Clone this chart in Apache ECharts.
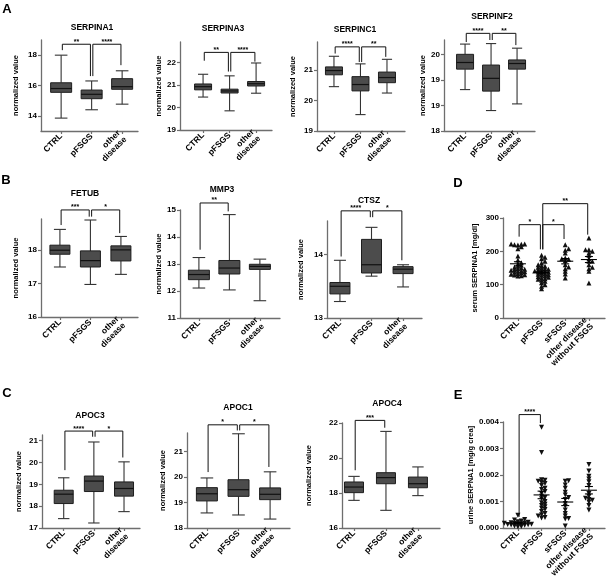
<!DOCTYPE html>
<html><head><meta charset="utf-8">
<script src="https://cdn.jsdelivr.net/npm/echarts@6/dist/echarts.min.js"></script>
<style>html,body{margin:0;padding:0;background:#fff}#c{width:610px;height:585px}</style>
</head><body><div id="c"></div>
<script>
// ---------- categories ----------
const groups3 = ['CTRL', 'pFSGS', 'other\ndisease'];
const groups4 = ['CTRL', 'pFSGS', 'sFSGS', 'other disease\nwithout FSGS'];

// ---------- box statistics: [min, Q1, median, Q3, max] per group ----------
const serpina1 = [[13.85, 15.55, 15.8, 16.18, 18.0], [14.4, 15.13, 15.42, 15.7, 16.3], [14.77, 15.75, 15.92, 16.45, 16.97]];
const serpina3 = [[20.46, 20.78, 20.92, 21.04, 21.47], [19.85, 20.64, 20.73, 20.81, 21.4], [20.63, 20.95, 21.05, 21.15, 21.97]];
const serpinc1 = [[20.46, 20.85, 20.99, 21.11, 21.46], [19.54, 20.32, 20.53, 20.79, 21.21], [20.25, 20.59, 20.76, 20.94, 21.36]];
const serpinf2 = [[19.31, 19.71, 19.84, 20.0, 20.2], [18.9, 19.28, 19.53, 19.79, 20.21], [19.03, 19.71, 19.82, 19.89, 20.12]];
const fetub = [[17.49, 17.87, 17.99, 18.14, 18.61], [16.97, 17.49, 17.68, 17.97, 18.89], [17.27, 17.67, 18.0, 18.12, 18.4]];
const mmp3 = [[12.11, 12.42, 12.61, 12.77, 13.24], [12.04, 12.63, 12.85, 13.13, 14.83], [11.64, 12.8, 12.91, 12.99, 13.18]];
const ctsz = [[13.26, 13.38, 13.5, 13.56, 13.91], [13.66, 13.71, 13.84, 14.24, 14.43], [13.49, 13.7, 13.77, 13.81, 13.84]];
const apoc3 = [[17.43, 18.12, 18.55, 18.73, 19.3], [17.23, 18.67, 19.15, 19.38, 20.94], [17.75, 18.46, 18.81, 19.11, 20.03]];
const apoc1 = [[18.59, 19.06, 19.34, 19.58, 19.96], [18.51, 19.24, 19.5, 19.89, 21.69], [18.35, 19.11, 19.32, 19.57, 20.2]];
const apoc4 = [[17.58, 18.02, 18.34, 18.63, 18.95], [17.01, 18.53, 18.88, 19.16, 21.52], [17.85, 18.3, 18.53, 18.91, 19.49]];

// ---------- serum SERPINA1 [mg/dl] ----------
const serumCtrl = [222, 222, 221, 220, 219, 214, 208, 186, 174, 166, 162, 158, 155, 152, 150, 148, 146, 145, 143, 142, 140, 139, 137, 135, 133, 131, 129, 127, 126, 130];
const serumPfsgs = [188, 182, 178, 170, 165, 160, 157, 155, 152, 150, 148, 146, 145, 143, 141, 140, 138, 137, 135, 133, 131, 130, 128, 126, 124, 122, 120, 118, 116, 113, 110, 106, 100, 95, 88];
const serumSfsgs = [220, 208, 203, 195, 180, 178, 176, 172, 160, 153, 148, 140, 132, 120];
const serumOther = [240, 205, 205, 200, 195, 188, 178, 170, 170, 160, 152, 148, 140, 105];

// ---------- urine SERPINA1 [mg/g crea] ----------
const urineCtrl = [0.00048, 0.00032, 0.00030, 0.00026, 0.00024, 0.00022, 0.00020, 0.00019, 0.00018, 0.00017, 0.00016, 0.00015, 0.00014, 0.00013, 0.00012, 0.00011, 0.00010, 0.00008, 0.00006, 0.00005];
const urinePfsgs = [0.00380, 0.00285, 0.00182, 0.00180, 0.00176, 0.00172, 0.00168, 0.00160, 0.00150, 0.00145, 0.00138, 0.00130, 0.00120, 0.00115, 0.00110, 0.00100, 0.00095, 0.00090, 0.00085, 0.00080, 0.00075, 0.00070, 0.00062, 0.00055, 0.00050, 0.00045, 0.00040, 0.00038];
const urineSfsgs = [0.00178, 0.00176, 0.00162, 0.00150, 0.00135, 0.00125, 0.00115, 0.00108, 0.00092, 0.00082, 0.00068, 0.00055, 0.00045, 0.00036, 0.00034, 0.00008];
const urineOther = [0.00240, 0.00215, 0.00195, 0.00185, 0.00175, 0.00160, 0.00130, 0.00120, 0.00112, 0.00108, 0.00105, 0.00098, 0.00085, 0.00068];

// ---------- significance: [group a, group b, stars, bracket level, leg a end, leg b end] ----------
const sigSerpina1 = [[0, 1, '**', 18.72, 18.33, 16.62], [1, 2, '****', 18.72, 16.62, 17.34]];
const sigSerpina3 = [[0, 1, '**', 22.44, 22.07, 21.59], [1, 2, '****', 22.44, 21.59, 22.03]];
const sigSerpinc1 = [[0, 1, '****', 21.77, 21.55, 21.27], [1, 2, '**', 21.77, 21.27, 21.44]];
const sigSerpinf2 = [[0, 1, '****', 20.41, 20.24, 20.28], [1, 2, '**', 20.41, 20.28, 20.18]];
const sigFetub = [[0, 1, '***', 19.19, 18.74, 18.99], [1, 2, '*', 19.19, 18.99, 18.5]];
const sigMmp3 = [[0, 1, '**', 15.26, 13.53, 14.95]];
const sigCtsz = [[0, 1, '****', 14.69, 13.97, 14.59], [1, 2, '*', 14.69, 14.59, 13.91]];
const sigApoc3 = [[0, 1, '****', 21.44, 19.65, 21.18], [1, 2, '*', 21.44, 21.18, 20.23]];
const sigApoc1 = [[0, 1, '*', 22.04, 20.19, 21.82], [1, 2, '*', 22.04, 21.82, 20.39]];
const sigApoc4 = [[0, 1, '***', 22.15, 19.3, 21.73]];
const sigSerum = [[0, 1, '*', 280, 244, 206], [1, 2, '*', 280, 206, 237], [1, 3, '**', 343, 206, 250]];
const sigUrine = [[0, 1, '****', 0.00428, 0.00042, 0.00396]];

// ---------- tick values / labels ----------
const ticksA1 = [14, 16, 18];
const ticksA2 = [19, 20, 21, 22];
const ticksA3 = [19, 20, 21];
const ticksA4 = [18.5, 19, 19.5, 20];
const labelsA4 = ['18', '19', '19', '20'];
const ticksB1 = [16, 17, 18];
const ticksB2 = [11, 12, 13, 14, 15];
const ticksB3 = [13, 14];
const ticksC1 = [17, 18, 19, 20, 21];
const ticksC2 = [18, 19, 20, 21];
const ticksC3 = [16, 18, 20, 22];
const ticksD = [0, 100, 200, 300];
const ticksE = [0, 0.001, 0.002, 0.003, 0.004];
const labelsE = ['0.000', '0.001', '0.002', '0.003', '0.004'];

// ---------- layout (pixels) ----------
const FONT = '"Liberation Sans", Arial, Helvetica, sans-serif';
const panels = [
  {kind: 'box', title: 'SERPINA1', box: serpina1, sig: sigSerpina1, ticks: ticksA1, L: 41, R: 138, T: 40, B: 131, ymin: 13, ymax: 19, xmin: -0.66, xmax: 2.52, bw: 21, tx: 92, ty: 28, gap: 21},
  {kind: 'box', title: 'SERPINA3', box: serpina3, sig: sigSerpina3, ticks: ticksA2, L: 180, R: 272, T: 42, B: 130, ymin: 19, ymax: 22.9, xmin: -0.87, xmax: 2.6, bw: 17, tx: 223, ty: 29, gap: 16},
  {kind: 'box', title: 'SERPINC1', box: serpinc1, sig: sigSerpinc1, ticks: ticksA3, L: 317, R: 405, T: 42, B: 131, ymin: 19, ymax: 21.93, xmin: -0.64, xmax: 2.68, bw: 17, tx: 355, ty: 30, gap: 20},
  {kind: 'box', title: 'SERPINF2', box: serpinf2, sig: sigSerpinf2, ticks: ticksA4, labels: labelsA4, L: 444, R: 535, T: 40, B: 131, ymin: 18.5, ymax: 20.28, xmin: -0.81, xmax: 2.69, bw: 17, tx: 492, ty: 17, gap: 16},
  {kind: 'box', title: 'FETUB', box: fetub, sig: sigFetub, ticks: ticksB1, L: 41, R: 138, T: 219, B: 317, ymin: 16, ymax: 18.92, xmin: -0.62, xmax: 2.56, bw: 20, tx: 85, ty: 194, gap: 21},
  {kind: 'box', title: 'MMP3', box: mmp3, sig: sigMmp3, ticks: ticksB2, L: 180, R: 280, T: 210, B: 318, ymin: 11, ymax: 15, xmin: -0.62, xmax: 2.66, bw: 21, tx: 222, ty: 190, gap: 16},
  {kind: 'box', title: 'CTSZ', box: ctsz, sig: sigCtsz, ticks: ticksB3, L: 327, R: 422, T: 221, B: 318, ymin: 13, ymax: 14.53, xmin: -0.41, xmax: 2.6, bw: 20, tx: 369, ty: 201, gap: 22},
  {kind: 'dot', yname: 'serum SERPINA1 [mg/dl]', groups: [serumCtrl, serumPfsgs, serumSfsgs, serumOther], sig: sigSerum, ticks: ticksD, L: 503, R: 605, T: 218, B: 318, ymin: 0, ymax: 300, xmin: -0.63, xmax: 3.68, tri: 'up', thr: 7, gap: 24},
  {kind: 'box', title: 'APOC3', box: apoc3, sig: sigApoc3, ticks: ticksC1, L: 42, R: 140, T: 435, B: 528, ymin: 17, ymax: 21.26, xmin: -0.72, xmax: 2.53, bw: 19, tx: 90, ty: 416, gap: 19},
  {kind: 'box', title: 'APOC1', box: apoc1, sig: sigApoc1, ticks: ticksC2, L: 187, R: 290, T: 433, B: 528, ymin: 18, ymax: 21.72, xmin: -0.63, xmax: 2.63, bw: 21, tx: 238, ty: 408, gap: 20},
  {kind: 'box', title: 'APOC4', box: apoc4, sig: sigApoc4, ticks: ticksC3, L: 342, R: 440, T: 423, B: 528, ymin: 16, ymax: 22, xmin: -0.375, xmax: 2.69, bw: 19, tx: 387, ty: 404, gap: 29},
  {kind: 'dot', yname: 'urine SERPNA1 [mg/g crea]', groups: [urineCtrl, urinePfsgs, urineSfsgs, urineOther], sig: sigUrine, ticks: ticksE, labels: labelsE, L: 503, R: 605, T: 422, B: 528, ymin: 0, ymax: 0.004, xmin: -0.63, xmax: 3.68, tri: 'down', thr: 0.00009, gap: 28}
];
const letters = [['A', 7, 9], ['B', 6, 180], ['C', 7, 393], ['D', 458, 183], ['E', 458, 395]];

function swarm(vals, thr) {
  const order = vals.map((v, i) => i).sort((a, b) => vals[a] - vals[b]);
  const off = new Array(vals.length);
  const placed = [];
  const cand = [0, 1, -1, 2, -2, 3, -3, 4, -4, 5, -5, 6, -6];
  for (const i of order) {
    const near = placed.filter(j => Math.abs(vals[j] - vals[i]) < thr).map(j => off[j]);
    let k = 0;
    for (const c of cand) { if (!near.includes(c)) { k = c; break; } }
    off[i] = k; placed.push(i);
  }
  return off;
}

const grid = [], xAxis = [], yAxis = [], series = [], graphic = [];

panels.forEach((p, gi) => {
  const cats = p.kind === 'box' ? groups3 : groups4;
  const catIdx = cats.map((c, i) => i);
  grid.push({left: p.L, top: p.T, width: p.R - p.L, height: p.B - p.T, containLabel: false});
  xAxis.push({
    gridIndex: gi, type: 'value', min: p.xmin, max: p.xmax,
    axisLine: {show: true, onZero: false, lineStyle: {color: '#6e6e6e', width: 1.3}},
    axisTick: {show: true, customValues: catIdx, length: 3, lineStyle: {color: '#6e6e6e', width: 1.2}},
    axisLabel: {show: true, customValues: catIdx, formatter: v => cats[Math.round(v)], rotate: 45, margin: 4,
      fontSize: 8.5, fontWeight: 'bold', color: '#000', fontFamily: FONT, lineHeight: 9},
    splitLine: {show: false}
  });
  yAxis.push({
    gridIndex: gi, type: 'value', min: p.ymin, max: p.ymax,
    axisLine: {show: true, onZero: false, lineStyle: {color: '#6e6e6e', width: 1.3}},
    axisTick: {show: true, customValues: p.ticks, length: 3, lineStyle: {color: '#6e6e6e', width: 1.2}},
    axisLabel: {show: true, customValues: p.ticks, margin: 4, fontSize: 8, fontWeight: 'bold', color: '#000', fontFamily: FONT,
      formatter: v => { const k = p.ticks.findIndex(t => Math.abs(t - v) < 1e-9); return p.labels ? p.labels[k] : String(v); }},
    splitLine: {show: false},
    name: p.kind === 'box' ? 'normalized value' : p.yname,
    nameLocation: 'middle', nameGap: p.gap,
    nameTextStyle: {fontSize: 7.5, fontWeight: 'bold', color: '#000', fontFamily: FONT}
  });

  if (p.kind === 'box') {
    const bw = p.bw;
    series.push({
      type: 'custom', xAxisIndex: gi, yAxisIndex: gi, clip: false,
      data: p.box.map((b, i) => [i].concat(b)),
      encode: {x: 0, y: [1, 2, 3, 4, 5]},
      renderItem: (params, api) => {
        const x = api.value(0);
        const pm = api.coord([x, api.value(1)]), q1 = api.coord([x, api.value(2)]), md = api.coord([x, api.value(3)]),
              q3 = api.coord([x, api.value(4)]), px = api.coord([x, api.value(5)]);
        const cx = pm[0], h = bw / 2, cap = bw * 0.3;
        const ls = {stroke: '#333', lineWidth: 1.1, fill: null};
        return {type: 'group', children: [
          {type: 'line', shape: {x1: cx, y1: px[1], x2: cx, y2: q3[1]}, style: ls},
          {type: 'line', shape: {x1: cx, y1: q1[1], x2: cx, y2: pm[1]}, style: ls},
          {type: 'line', shape: {x1: cx - cap, y1: px[1], x2: cx + cap, y2: px[1]}, style: ls},
          {type: 'line', shape: {x1: cx - cap, y1: pm[1], x2: cx + cap, y2: pm[1]}, style: ls},
          {type: 'rect', shape: {x: cx - h, y: q3[1], width: bw, height: q1[1] - q3[1]}, style: {fill: '#4c4c4c', stroke: '#1e1e1e', lineWidth: 1}},
          {type: 'line', shape: {x1: cx - h, y1: md[1], x2: cx + h, y2: md[1]}, style: {stroke: '#111', lineWidth: 1.2}}
        ]};
      }
    });
  } else {
    const data = [];
    p.groups.forEach((vals, g) => {
      const off = swarm(vals, p.thr);
      vals.forEach((v, i) => data.push({value: [g, v], symbolOffset: [off[i] * 3.4, 0]}));
    });
    series.push({
      type: 'scatter', xAxisIndex: gi, yAxisIndex: gi, data,
      symbol: 'triangle', symbolSize: [5, 5], symbolRotate: p.tri === 'down' ? 180 : 0,
      itemStyle: {color: '#111', opacity: 1}, silent: true, z: 3
    });
    // mean ± SEM
    const stats = p.groups.map((vals, g) => {
      const n = vals.length, m = vals.reduce((a, b) => a + b, 0) / n;
      const sd = Math.sqrt(vals.reduce((a, b) => a + (b - m) * (b - m), 0) / (n - 1));
      const se = sd / Math.sqrt(n);
      return [g, m, m - se, m + se];
    });
    series.push({
      type: 'custom', xAxisIndex: gi, yAxisIndex: gi, clip: false, z: 4,
      data: stats, encode: {x: 0, y: [1, 2, 3]},
      renderItem: (params, api) => {
        const x = api.value(0);
        const m = api.coord([x, api.value(1)]), lo = api.coord([x, api.value(2)]), hi = api.coord([x, api.value(3)]);
        const cx = m[0];
        const ls = {stroke: '#000', lineWidth: 1.1};
        return {type: 'group', children: [
          {type: 'line', shape: {x1: cx - 8, y1: m[1], x2: cx + 8, y2: m[1]}, style: ls},
          {type: 'line', shape: {x1: cx, y1: lo[1], x2: cx, y2: hi[1]}, style: ls},
          {type: 'line', shape: {x1: cx - 4, y1: lo[1], x2: cx + 4, y2: lo[1]}, style: ls},
          {type: 'line', shape: {x1: cx - 4, y1: hi[1], x2: cx + 4, y2: hi[1]}, style: ls}
        ]};
      }
    });
  }

  // significance brackets
  const sig = p.sig;
  series.push({
    type: 'custom', xAxisIndex: gi, yAxisIndex: gi, clip: false, z: 5,
    data: sig.map(s => [s[0], s[1], s[3], s[4], s[5]]),
    encode: {x: [0, 1], y: [2, 3, 4]},
    renderItem: (params, api) => {
      const a = api.coord([api.value(0), api.value(2)]);
      const b = api.coord([api.value(1), api.value(2)]);
      const la = api.coord([api.value(0), api.value(3)]);
      const lb = api.coord([api.value(1), api.value(4)]);
      const ax = a[0] + 1.2, bx = b[0] - 1.2;
      const stars = sig[params.dataIndex][2];
      return {type: 'group', children: [
        {type: 'polyline', shape: {points: [[ax, la[1]], [ax, a[1]], [bx, a[1]], [bx, lb[1]]]},
          style: {stroke: '#111', lineWidth: 1, fill: null}},
        {type: 'text', style: {text: stars, x: (ax + bx) / 2, y: a[1] + 1, align: 'center', textAlign: 'center',
          verticalAlign: 'bottom', textVerticalAlign: 'bottom', fill: '#000', font: 'bold 7px ' + FONT}}
      ]};
    }
  });

  if (p.title) {
    graphic.push({type: 'text', x: p.tx, y: p.ty, style: {text: p.title, align: 'center', verticalAlign: 'middle',
      textAlign: 'center', textVerticalAlign: 'middle', fill: '#000', font: 'bold 8.5px ' + FONT}});
  }
});

letters.forEach(l => graphic.push({type: 'text', x: l[1], y: l[2], style: {text: l[0], align: 'center', verticalAlign: 'middle',
  textAlign: 'center', textVerticalAlign: 'middle', fill: '#000', font: 'bold 13px ' + FONT}}));

const chart = echarts.init(document.getElementById('c'), null, {renderer: 'canvas'});
chart.setOption({
  animation: false,
  backgroundColor: '#fff',
  textStyle: {fontFamily: FONT},
  grid, xAxis, yAxis, series, graphic
});
</script>
</body></html>
